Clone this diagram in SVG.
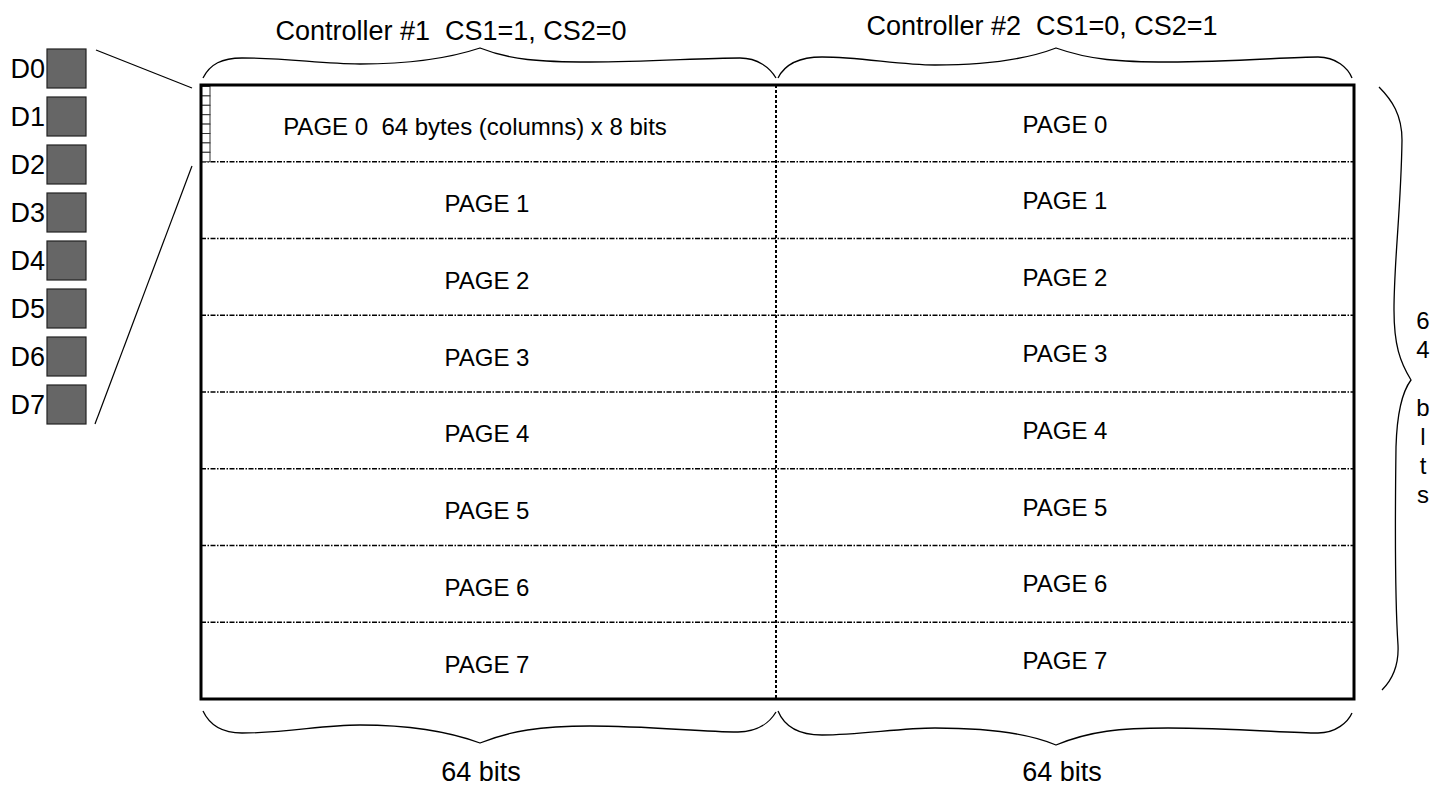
<svg xmlns="http://www.w3.org/2000/svg" width="1450" height="788" viewBox="0 0 1450 788">
<style>
text{font-family:"Liberation Sans",Arial,sans-serif;fill:#000;white-space:pre}
.lbl{font-size:24px;text-anchor:middle}
.pg{font-size:24px;text-anchor:middle}
.hd{font-size:27px;text-anchor:middle}
.dl{font-size:27px;text-anchor:end}
.box{fill:#666;stroke:#222;stroke-width:1.2}
.brace{fill:none;stroke:#000;stroke-width:1.3}
.row{stroke:#000;stroke-width:1.4;stroke-dasharray:5 1.5 1.5 1.5}
.div{stroke:#000;stroke-width:2;stroke-dasharray:3 2}
.cell{fill:#fff;stroke:#333;stroke-width:1}
.thin{stroke:#000;stroke-width:1.2;fill:none}
</style>
<rect width="1450" height="788" fill="#fff"/>

<g id="data-bits">
<g id="d0"><text class="dl" x="45" y="78">D0</text><rect class="box" x="47" y="49" width="39" height="39"/></g>
<g id="d1"><text class="dl" x="45" y="126">D1</text><rect class="box" x="47" y="97" width="39" height="39"/></g>
<g id="d2"><text class="dl" x="45" y="174">D2</text><rect class="box" x="47" y="145" width="39" height="39"/></g>
<g id="d3"><text class="dl" x="45" y="222">D3</text><rect class="box" x="47" y="193" width="39" height="39"/></g>
<g id="d4"><text class="dl" x="45" y="270">D4</text><rect class="box" x="47" y="241" width="39" height="39"/></g>
<g id="d5"><text class="dl" x="45" y="318">D5</text><rect class="box" x="47" y="289" width="39" height="39"/></g>
<g id="d6"><text class="dl" x="45" y="366">D6</text><rect class="box" x="47" y="337" width="39" height="39"/></g>
<g id="d7"><text class="dl" x="45" y="414">D7</text><rect class="box" x="47" y="385" width="39" height="39"/></g>
</g>

<g id="connectors">
<line class="thin" x1="96" y1="50" x2="192" y2="88"/>
<line class="thin" x1="192" y1="166" x2="95" y2="424"/>
</g>

<g id="memory">
<rect x="201" y="85" width="1153" height="614" fill="#fff" stroke="none"/>
<g id="rows">
<line class="row" x1="201" y1="161.75" x2="1354" y2="161.75"/>
<line class="row" x1="201" y1="238.5" x2="1354" y2="238.5"/>
<line class="row" x1="201" y1="315.25" x2="1354" y2="315.25"/>
<line class="row" x1="201" y1="392" x2="1354" y2="392"/>
<line class="row" x1="201" y1="468.75" x2="1354" y2="468.75"/>
<line class="row" x1="201" y1="545.5" x2="1354" y2="545.5"/>
<line class="row" x1="201" y1="622.25" x2="1354" y2="622.25"/>
</g>
<line class="div" x1="776" y1="85" x2="776" y2="699"/>
<g id="cells">
<rect class="cell" x="201" y="86.5" width="9" height="9.4"/>
<rect class="cell" x="201" y="95.9" width="9" height="9.4"/>
<rect class="cell" x="201" y="105.3" width="9" height="9.4"/>
<rect class="cell" x="201" y="114.7" width="9" height="9.4"/>
<rect class="cell" x="201" y="124.1" width="9" height="9.4"/>
<rect class="cell" x="201" y="133.5" width="9" height="9.4"/>
<rect class="cell" x="201" y="142.9" width="9" height="9.4"/>
<rect class="cell" x="201" y="152.3" width="9" height="9.4"/>
</g>
<rect x="201" y="85" width="1153" height="614" fill="none" stroke="#000" stroke-width="3"/>
</g>

<g id="page-labels">
<text class="pg" x="475" y="135" xml:space="preserve">PAGE 0  64 bytes (columns) x 8 bits</text>
<text class="pg" x="487" y="212">PAGE 1</text>
<text class="pg" x="487" y="289">PAGE 2</text>
<text class="pg" x="487" y="366">PAGE 3</text>
<text class="pg" x="487" y="442">PAGE 4</text>
<text class="pg" x="487" y="519">PAGE 5</text>
<text class="pg" x="487" y="596">PAGE 6</text>
<text class="pg" x="487" y="673">PAGE 7</text>
<text class="pg" x="1065" y="133">PAGE 0</text>
<text class="pg" x="1065" y="209">PAGE 1</text>
<text class="pg" x="1065" y="286">PAGE 2</text>
<text class="pg" x="1065" y="362">PAGE 3</text>
<text class="pg" x="1065" y="439">PAGE 4</text>
<text class="pg" x="1065" y="516">PAGE 5</text>
<text class="pg" x="1065" y="592">PAGE 6</text>
<text class="pg" x="1065" y="669">PAGE 7</text>
</g>

<g id="braces">
<path class="brace" d="M203,78 C210,64 222,58 242,58 C290,58 320,64 360,64 C410,64 450,58 480,48 C510,60 540,62 590,62 C650,62 700,58 740,58 C758,58 770,68 776,78"/>
<path class="brace" d="M778,78 C785,64 800,57 822,57 C860,57 900,65 935,65 C990,65 1030,58 1056,48 C1090,60 1120,62 1168,62 C1230,62 1290,57 1318,57 C1336,57 1348,68 1352,78"/>
<path class="brace" d="M203,711 C210,726 222,733 242,733 C290,733 320,725 360,725 C410,725 450,732 480,743 C510,731 540,726 590,726 C650,726 700,732 738,732 C758,732 770,722 776,712"/>
<path class="brace" d="M778,711 C785,728 800,735 822,735 C860,735 900,728 935,728 C990,728 1030,734 1056,745 C1090,731 1120,728 1168,728 C1230,728 1290,733 1318,733 C1336,733 1348,722 1352,713"/>
<path class="brace" d="M1379,87 C1392,100 1402,115 1402,140 C1401,210 1394,260 1394,310 C1394,345 1400,362 1411,380 C1402,392 1397,412 1396,447 C1395,525 1395,600 1398,645 C1399,665 1392,680 1382,690"/>
</g>

<g id="titles">
<text class="hd" x="451" y="40" xml:space="preserve">Controller #1  CS1=1, CS2=0</text>
<text class="hd" x="1042" y="35" xml:space="preserve">Controller #2  CS1=0, CS2=1</text>
<text class="hd" x="481" y="781">64 bits</text>
<text class="hd" x="1062" y="781">64 bits</text>
<text class="lbl" x="1423" y="329">6</text>
<text class="lbl" x="1423" y="358">4</text>
<text class="lbl" x="1423" y="416">b</text>
<text class="lbl" x="1423" y="445">l</text>
<text class="lbl" x="1423" y="474">t</text>
<text class="lbl" x="1423" y="503">s</text>
</g>
</svg>
